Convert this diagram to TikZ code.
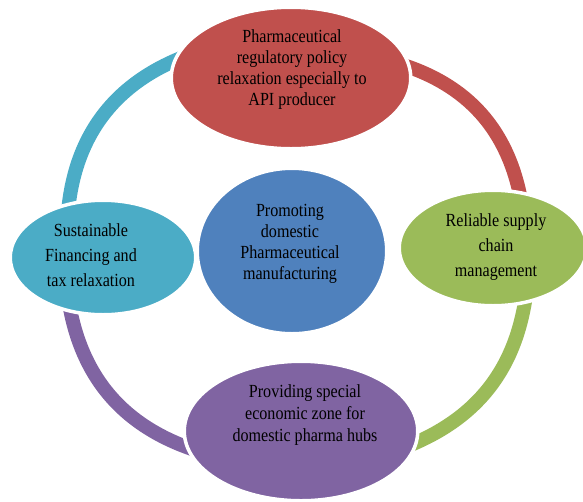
\documentclass[tikz,border=0pt]{standalone}
\usepackage{fontspec}
\setmainfont{Liberation Serif}[FakeStretch=0.87]
\usetikzlibrary{shapes.geometric}
\definecolor{cRed}{HTML}{C0504D}
\definecolor{cGreen}{HTML}{9BBB59}
\definecolor{cPurple}{HTML}{8064A2}
\definecolor{cTeal}{HTML}{4BACC6}
\definecolor{cBlue}{HTML}{4F81BD}
\begin{document}
\begin{tikzpicture}[x=1pt,y=-1pt,
  blob/.style={ellipse, draw=white, line width=3.5pt, inner sep=0pt},
  band/.style={line width=14pt},
  lbl/.style={align=center, text=black, inner sep=0pt, font=\fontsize{18.5}{21}\selectfont},
  lblwide/.style={lbl, font=\fontsize{18.5}{25}\selectfont},
]
\useasboundingbox (0,0) rectangle (583,501);

% ring segments, each running from one ellipse to the next
\coordinate (rA) at (400,64);  \coordinate (rB) at (521,200);
\coordinate (gA) at (526,295); \coordinate (gB) at (408,446);
\coordinate (pA) at (69,303);  \coordinate (pB) at (195,450);
\coordinate (tA) at (186,56);  \coordinate (tB) at (68,212);
\draw[band, cRed]    (rA) to[bend left=31]  (rB);
\draw[band, cGreen]  (gA) to[bend left=30]  (gB);
\draw[band, cPurple] (pA) to[bend right=31] (pB);
\draw[band, cTeal]   (tA) to[bend right=32] (tB);

% ellipses
\node[blob, fill=cRed,    minimum width=239.5, minimum height=141.5] (red)    at (291,78) {};
\node[blob, fill=cGreen,  minimum width=187.5, minimum height=115.5] (green)  at (493,248) {};
\node[blob, fill=cPurple, minimum width=233.5, minimum height=139.5] (purple) at (301,431) {};
\node[blob, fill=cTeal,   minimum width=185.5, minimum height=114.5] (teal)   at (103,257.5) {};
\node[blob, fill=cBlue,   minimum width=189.5, minimum height=165.5] (blue)   at (292,251) {};

% labels
\node[lbl] (redtxt) at (292,70) {Pharmaceutical\\regulatory policy\\relaxation especially to\\API producer};
\node[lbl] (bluetxt) at (290,244) {Promoting\\domestic\\Pharmaceutical\\manufacturing};
\node[lblwide] (greentxt) at (496,247.5) {Reliable supply\\chain\\management};
\node[lblwide] (tealtxt) at (91,255.5) {Sustainable\\Financing and\\tax relaxation};
\node[lbl, font=\fontsize{18.5}{22}\selectfont] (purpletxt) at (305,415.5) {Providing special\\economic zone for\\domestic pharma hubs};
\end{tikzpicture}
\end{document}
